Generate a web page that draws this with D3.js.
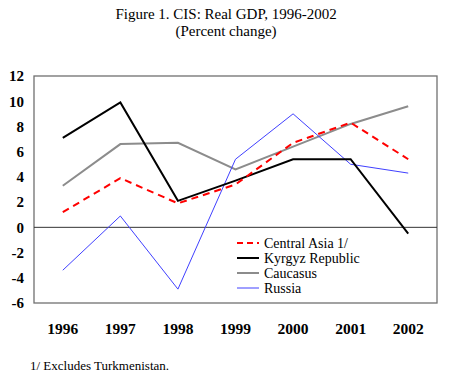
<!DOCTYPE html>
<html><head><meta charset="utf-8">
<script src="https://cdn.jsdelivr.net/npm/d3@7"></script>
<style>body{margin:0;background:#fff}svg{display:block}text{font-family:"Liberation Serif","Times New Roman",serif}</style>
</head><body><svg id="c" width="450" height="380"></svg>
<script>
const years = ["1996","1997","1998","1999","2000","2001","2002"];
const centralAsia = [1.2, 3.9, 1.9, 3.4, 6.7, 8.3, 5.4];
const kyrgyz = [7.1, 9.9, 2.1, 3.7, 5.4, 5.4, -0.5];
const caucasus = [3.3, 6.6, 6.7, 4.6, 6.4, 8.2, 9.6];
const russia = [-3.4, 0.9, -4.9, 5.4, 9.0, 5.0, 4.3];
const yTicks = [-6, -4, -2, 0, 2, 4, 6, 8, 10, 12];
const seriesNames = ["Central Asia 1/", "Kyrgyz Republic", "Caucasus", "Russia"];

const series = [
  {name: seriesNames[0], values: centralAsia, color: "#ff0000", width: 2, dash: "7,5"},
  {name: seriesNames[1], values: kyrgyz, color: "#000000", width: 2, dash: null},
  {name: seriesNames[2], values: caucasus, color: "#8c8c8c", width: 2, dash: null},
  {name: seriesNames[3], values: russia, color: "#4040ff", width: 1, dash: null}
];

const svg = d3.select("#c");
const L = 34, R = 437, T = 76, B = 303;
const x = d3.scaleBand().domain(years).range([L, R]);
const y = d3.scaleLinear().domain([-6, 12]).range([B, T]);

svg.append("text").attr("x", 226).attr("y", 19).attr("text-anchor", "middle")
  .attr("font-size", 15).text("Figure 1. CIS: Real GDP, 1996-2002");
svg.append("text").attr("x", 226).attr("y", 36).attr("text-anchor", "middle")
  .attr("font-size", 15).text("(Percent change)");

// frame
svg.append("rect").attr("x", L).attr("y", T).attr("width", R - L).attr("height", B - T)
  .attr("fill", "none").attr("stroke", "#707070").attr("stroke-width", 1.3);
// zero line
svg.append("line").attr("x1", L).attr("x2", R).attr("y1", y(0)).attr("y2", y(0))
  .attr("stroke", "#333").attr("stroke-width", 1);

// y axis labels
const yAxis = d3.axisLeft(y).tickValues(yTicks).tickSize(0).tickPadding(10)
  .tickFormat(d => String(d));
const gy = svg.append("g").attr("transform", `translate(${L},0)`).call(yAxis);
gy.select(".domain").remove();
gy.selectAll("text").attr("font-size", 15).attr("font-weight", "bold")
  .attr("font-family", "'Liberation Serif',serif").attr("fill", "#000");

// x axis labels
const xAxis = d3.axisBottom(x).tickSize(0).tickPadding(20);
const gx = svg.append("g").attr("transform", `translate(0,${B})`).call(xAxis);
gx.select(".domain").remove();
gx.selectAll("text").attr("font-size", 15.5).attr("font-weight", "bold")
  .attr("font-family", "'Liberation Serif',serif").attr("fill", "#000");

const line = d3.line().x((d, i) => x(years[i]) + x.bandwidth() / 2).y(d => y(d));
[series[2], series[3], series[1], series[0]].forEach(s => {
  svg.append("path").datum(s.values).attr("d", line).attr("fill", "none")
    .attr("stroke", s.color).attr("stroke-width", s.width)
    .attr("stroke-dasharray", s.dash);
});

// legend
const lg = svg.append("g");
series.forEach((s, i) => {
  const yy = 243 + i * 15;
  lg.append("line").attr("x1", 237).attr("x2", 259).attr("y1", yy).attr("y2", yy)
    .attr("stroke", s.color).attr("stroke-width", s.width)
    .attr("stroke-dasharray", s.dash ? "6,4" : null);
  lg.append("text").attr("x", 264).attr("y", yy + 5).attr("font-size", 14)
    .attr("fill", "#000").text(s.name);
});

svg.append("text").attr("x", 30).attr("y", 370).attr("font-size", 13)
  .attr("fill", "#000").text("1/ Excludes Turkmenistan.");
</script></body></html>
